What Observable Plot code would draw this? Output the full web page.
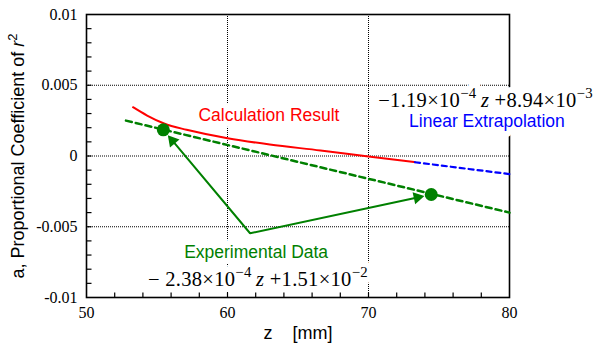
<!DOCTYPE html>
<html>
<head>
<meta charset="utf-8">
<script src="https://cdn.jsdelivr.net/npm/d3@7"></script>
<script src="https://cdn.jsdelivr.net/npm/@observablehq/plot@0.6"></script>
<style>
  body { margin: 0; background: #fff; }
  svg { display: block; }
</style>
</head>
<body>
<div id="chart"></div>
<script>
// Calculated coefficient a(z)
const calcZ = [53.3, 54.3, 55.5, 57.1, 60.0, 63.0, 66.6, 70.0, 73.3];
const calcA = [0.00345, 0.00286, 0.0023, 0.00185, 0.00126, 0.00081, 0.00039, -0.00004, -0.00044];

// Linear extrapolation of the calculation beyond its last point
const extZ = [73.3, 80.0];
const extA = [-0.00044, -0.00128];

// Linear fit through the experimental data
const fitZ = [52.8, 80.0];
const fitA = [0.0025, -0.0040];

// Experimental data points
const expZ = [55.45, 74.45];
const expA = [0.00185, -0.00272];

// Callout arrows start from a common point below the fit line
const calloutZ = 61.6;
const calloutA = -0.00546;

// Axis ticks
const zTicks = [50, 60, 70, 80];
const aTicks = [-0.01, -0.005, 0, 0.005, 0.01];
const zMinor = [52, 54, 56, 58, 60, 62, 64, 66, 68, 70, 72, 74, 76, 78];
const aMinor = [-0.009, -0.008, -0.007, -0.006, -0.005, -0.004, -0.003, -0.002, -0.001,
                0, 0.001, 0.002, 0.003, 0.004, 0.005, 0.006, 0.007, 0.008, 0.009];
const zGrid = [60, 70];
const aGrid = [-0.005, 0, 0.005];

// Annotation texts (^{..} = superscript, _.._ = italic)
const sansText = ["Calculation Result", "Linear Extrapolation", "Experimental Data"];
const sansZ = [62.94, 78.40, 62.03];
const sansA = [0.00286, 0.00243, -0.0068];
const sansColor = ["#ff0000", "#0000ff", "#008000"];

const eqText = ["−1.19×10^{−4}\u2009_z_ +8.94×10^{−3}", "− 2.38×10^{−4}\u2009_z_ +1.51×10^{−2}"];
const eqZ = [78.3, 62.16];
const eqA = [0.00395, -0.0087];

// Layout
const W = 593, H = 354;
const mL = 86, mR = 84, mT = 14, mB = 57;
const innerW = W - mL - mR, innerH = H - mT - mB;
const zDomain = [50, 80], aDomain = [-0.01, 0.01];
const tickLen = 5;

const toRows = (zs, as) => zs.map((z, i) => ({z, a: as[i]}));
const calc = toRows(calcZ, calcA);
const ext = toRows(extZ, extA);
const fit = toRows(fitZ, fitA);
const exp = toRows(expZ, expA);
const sansLabels = sansText.map((t, i) => ({t, z: sansZ[i], a: sansA[i], c: sansColor[i]}));
const eqLabels = eqText.map((t, i) => ({t, z: eqZ[i], a: eqA[i]}));

// pixels per data unit
const kx = innerW / (zDomain[1] - zDomain[0]);
const ky = innerH / (aDomain[1] - aDomain[0]);

// Callout arrows: line from the common point to just short of each data point,
// finished with a filled triangular head
const gap = 7, headR = 4.6;
const headCenterBack = 2 * Math.sqrt(Math.PI * headR * headR / (3 * Math.sqrt(3)));
const arrows = exp.map(d => {
  const vx = (d.z - calloutZ) * kx, vy = -(d.a - calloutA) * ky;
  const len = Math.hypot(vx, vy), ux = vx / len, uy = vy / len;
  const back = gap + headCenterBack;
  return {
    z2: d.z - ux * back / kx, a2: d.a + uy * back / ky,
    rot: Math.atan2(ux, -uy) * 180 / Math.PI
  };
});
const callout = [{z: arrows[0].z2, a: arrows[0].a2}, {z: calloutZ, a: calloutA}, {z: arrows[1].z2, a: arrows[1].a2}];

// inward tick segments along the bottom and left edges
const zTickRows = zMinor.map(z => ({z, a1: aDomain[0], a2: aDomain[0] + tickLen / ky}));
const aTickRows = aMinor.map(a => ({a, z1: zDomain[0], z2: zDomain[0] + tickLen / kx}));

const SANS = "'Liberation Sans', Arial, sans-serif";
const SERIF = "'Liberation Serif', 'Times New Roman', serif";
const GREEN = "#008000";

const chart = Plot.plot({
  width: W,
  height: H,
  marginLeft: mL,
  marginRight: mR,
  marginTop: mT,
  marginBottom: mB,
  style: {fontFamily: SERIF, fontSize: "16px", color: "#000", background: "#fff"},
  x: {domain: zDomain},
  y: {domain: aDomain},
  marks: [
    Plot.gridX(zGrid, {stroke: "#000", strokeOpacity: 1, strokeDasharray: "1,1", strokeWidth: 1}),
    Plot.gridY(aGrid, {stroke: "#000", strokeOpacity: 1, strokeDasharray: "1,1", strokeWidth: 1}),
    // tick labels
    Plot.axisX(zTicks, {tickSize: 0, tickPadding: 9, tickFormat: d => String(d), label: null, fontSize: 16}),
    Plot.axisY(aTicks, {tickSize: 0, tickPadding: 9, tickFormat: d => String(d), label: null, fontSize: 16}),
    Plot.frame({stroke: "#000", strokeWidth: 1.6}),
    // inward minor ticks
    Plot.link(zTickRows, {x1: "z", x2: "z", y1: "a1", y2: "a2", stroke: "#000", strokeWidth: 1.2}),
    Plot.link(aTickRows, {x1: "z1", x2: "z2", y1: "a", y2: "a", stroke: "#000", strokeWidth: 1.2}),
    // axis titles
    Plot.text(["z\u00a0\u00a0\u00a0\u00a0[mm]"], {frameAnchor: "bottom", dy: 41, fontFamily: SANS, fontSize: 18, fill: "#000"}),
    Plot.text(["a, Proportional Coefficient of _r_^{2}"], {frameAnchor: "left", textAnchor: "middle", rotate: -90, dx: -68, fontFamily: SANS, fontSize: 18, fill: "#000"}),
    // white halos behind the annotations
    Plot.text(sansLabels, {x: "z", y: "a", text: "t", fontFamily: SANS, fontSize: 17.5,
      fill: "white", stroke: "white", strokeWidth: 12, strokeLinejoin: "round"}),
    Plot.text(eqLabels, {x: "z", y: "a", text: "t", fontFamily: SERIF, fontSize: 20.5,
      fill: "white", stroke: "white", strokeWidth: 12, strokeLinejoin: "round"}),
    // annotations
    Plot.text(sansLabels, {x: "z", y: "a", text: "t", fill: "c", fontFamily: SANS, fontSize: 17.5}),
    Plot.text(eqLabels, {x: "z", y: "a", text: "t", fill: "#000", fontFamily: SERIF, fontSize: 20.5}),
    // data
    Plot.line(fit, {x: "z", y: "a", stroke: GREEN, strokeWidth: 2.5, strokeDasharray: "6,4"}),
    Plot.line(calc, {x: "z", y: "a", stroke: "#ff0000", strokeWidth: 2, curve: "monotone-x"}),
    Plot.line(ext, {x: "z", y: "a", stroke: "#0000ff", strokeWidth: 2.2, strokeDasharray: "5,4"}),
    Plot.line(callout, {x: "z", y: "a", stroke: GREEN, strokeWidth: 2, strokeLinejoin: "miter"}),
    Plot.dot(arrows, {x: "z2", y: "a2", symbol: "triangle", rotate: "rot", r: headR, fill: GREEN, stroke: "none"}),
    Plot.dot(exp, {x: "z", y: "a", r: 6.5, fill: GREEN, stroke: "none"})
  ]
});

// Rebuild annotation text with superscripts and italics
function richify(textEl) {
  const src = textEl.textContent;
  if (!/[\^_]/.test(src)) return;
  const base = parseFloat(getComputedStyle(textEl).fontSize) || 18;
  const isEquation = /×/.test(src);
  while (textEl.firstChild) textEl.removeChild(textEl.firstChild);
  if (isEquation) textEl.setAttribute("letter-spacing", "0.3");
  const re = /\^\{([^}]*)\}|_([^_]*)_|([^^_]+)/g;
  const ns = "http://www.w3.org/2000/svg";
  let m, raised = false;
  const shift = 0.42 * base;
  while ((m = re.exec(src))) {
    const ts = document.createElementNS(ns, "tspan");
    if (m[1] !== undefined) {
      ts.textContent = m[1];
      ts.setAttribute("font-size", (0.72 * base).toFixed(1));
      ts.setAttribute("dy", (-shift).toFixed(1));
      raised = true;
    } else {
      ts.textContent = m[2] !== undefined ? m[2] : m[3];
      if (m[2] !== undefined) ts.setAttribute("font-style", "italic");
      if (raised) { ts.setAttribute("dy", shift.toFixed(1)); raised = false; }
    }
    textEl.appendChild(ts);
  }
}

document.getElementById("chart").appendChild(chart);
chart.querySelectorAll("text").forEach(richify);
</script>
</body>
</html>
